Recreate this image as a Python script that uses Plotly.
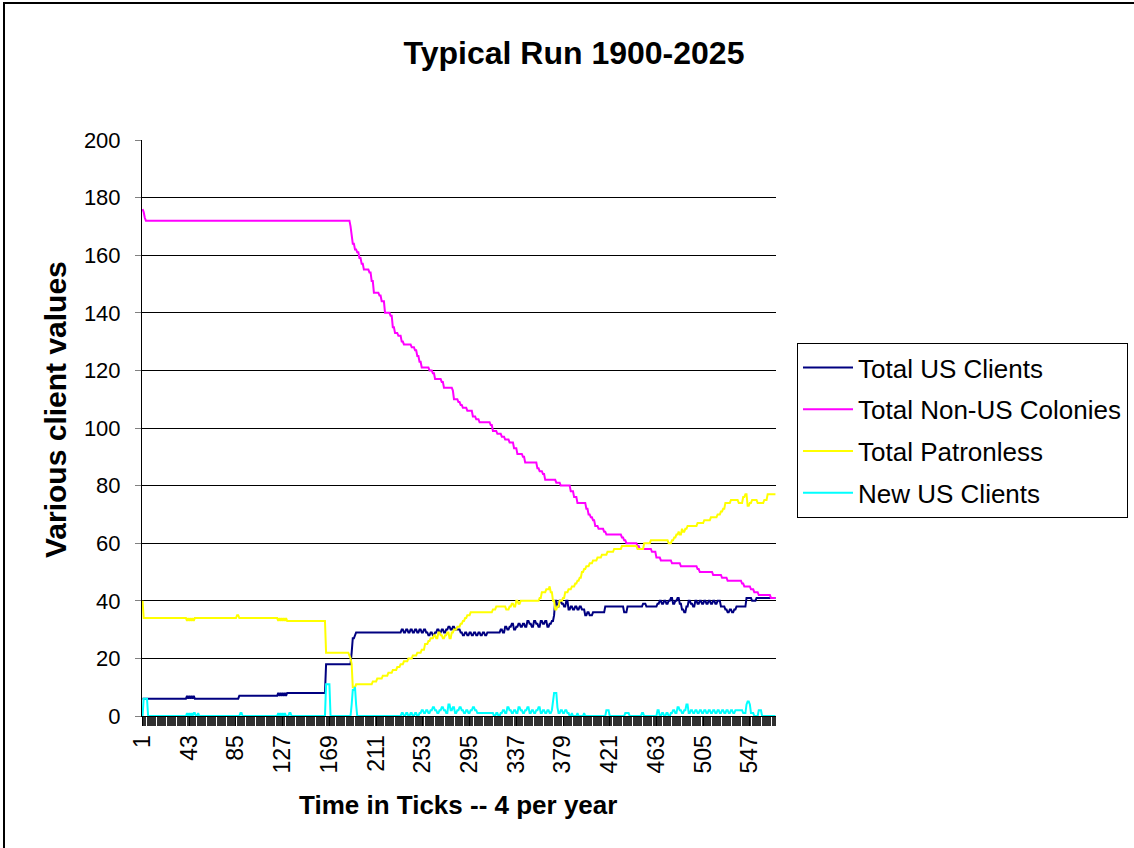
import plotly.graph_objects as go

# ---- data: (tick, value) change points; each value holds until the next change ----
N_TICKS = 570
TICK_LABELS = list(range(1, N_TICKS + 1, 42))  # 1, 43, 85, ... 547
Y_TICKS = list(range(0, 201, 20))

SERIES_NAMES = ["Total US Clients", "Total Non-US Colonies", "Total Patronless", "New US Clients"]

US_CLIENTS = [
    (1, 6), (41, 7), (42, 6), (43, 7), (44, 6), (45, 7), (46, 6), (47, 7), (48, 6),
    (88, 7),
    (123, 8), (124, 7), (125, 8), (126, 7), (127, 8), (128, 7), (129, 8), (130, 7), (131, 8),
    (166, 18),
    (189, 22), (190, 27), (192, 28), (193, 29),
    (234, 30), (236, 29), (238, 30), (240, 29), (242, 30), (244, 29), (246, 30), (248, 29),
    (250, 30), (252, 29), (254, 30), (256, 29),
    (258, 28), (260, 29), (262, 28), (264, 29), (266, 30), (268, 29), (270, 30), (272, 29),
    (274, 30), (276, 31), (278, 30), (280, 31), (282, 30),
    (287, 29), (289, 28), (291, 29), (293, 28), (295, 29), (297, 28), (299, 29), (301, 28),
    (303, 29), (305, 28), (307, 29), (309, 28), (311, 29),
    (323, 30), (325, 29), (327, 31), (329, 30), (331, 31), (333, 32), (335, 30), (337, 31),
    (339, 32), (341, 31), (343, 32), (345, 31), (347, 33), (349, 32), (351, 31), (353, 33),
    (355, 32), (357, 31), (359, 33), (361, 32), (363, 33), (365, 31), (367, 32), (369, 33),
    (371, 35), (372, 40), (374, 38), (376, 40), (378, 39), (380, 38), (382, 40), (384, 37),
    (386, 38), (388, 37), (390, 38), (392, 37), (394, 38), (396, 37),
    (399, 35), (401, 36), (403, 35), (406, 36), (417, 38), (434, 36), (437, 38), (451, 39),
    (454, 38),
    (464, 39), (466, 40), (468, 39), (470, 40), (472, 39), (474, 40), (476, 41), (478, 39),
    (480, 40), (482, 41), (484, 39), (486, 37), (488, 36), (490, 38), (492, 40), (494, 39),
    (496, 38), (498, 40), (500, 39), (502, 40), (504, 39), (506, 40), (508, 39), (510, 40),
    (512, 39), (514, 40), (516, 39), (518, 40),
    (521, 38), (525, 37), (527, 36), (529, 37), (531, 36), (533, 37), (535, 38), (544, 41),
    (549, 40), (553, 41),
]

NON_US_COLONIES = [
    (1, 176), (2, 175), (3, 173), (4, 172),
    (188, 170), (189, 167), (190, 164), (192, 162), (194, 161), (196, 159), (198, 157),
    (200, 155), (205, 154), (207, 151), (209, 147), (214, 146), (216, 144), (219, 140),
    (224, 139), (226, 135), (228, 133), (231, 132), (234, 130), (236, 129), (243, 128),
    (246, 127), (248, 125), (250, 123), (252, 121), (259, 120), (262, 119), (264, 117),
    (270, 116), (272, 114), (280, 113), (281, 110), (285, 109), (287, 108), (289, 107),
    (293, 106), (298, 104), (301, 103), (304, 102), (314, 101), (316, 99), (320, 98),
    (324, 97), (327, 96), (331, 95), (335, 93), (338, 91), (343, 90), (345, 88), (356, 86),
    (358, 85), (361, 84), (363, 82), (373, 81), (377, 80), (386, 78), (389, 76), (392, 74),
    (400, 72), (402, 70), (404, 69), (406, 68), (408, 66), (411, 65), (416, 64), (418, 63),
    (432, 62), (434, 61), (436, 60), (446, 59), (448, 58), (459, 57), (463, 55), (467, 54),
    (477, 53), (485, 52), (500, 51), (502, 50), (514, 49), (522, 48), (527, 47), (540, 46),
    (542, 45), (548, 44), (551, 43), (555, 42), (566, 41),
]

PATRONLESS = [
    (1, 40), (2, 34), (41, 33), (42, 34), (43, 33), (44, 34), (45, 33), (46, 34), (47, 33),
    (48, 34),
    (86, 35), (88, 34),
    (123, 33), (124, 34), (125, 33), (126, 34), (127, 33), (128, 34), (129, 33), (130, 34),
    (131, 33),
    (166, 22), (187, 21), (188, 20), (189, 18), (190, 10),
    (193, 11), (208, 12), (212, 13), (217, 14), (222, 15), (226, 16), (230, 17), (233, 18),
    (236, 19), (240, 20), (244, 21), (248, 22), (252, 23), (255, 25), (258, 26), (260, 27),
    (263, 28), (265, 27), (267, 29), (269, 28), (271, 27), (273, 28), (275, 29), (277, 27),
    (279, 29), (281, 30), (284, 31), (287, 32), (289, 33), (291, 34), (293, 35), (296, 36),
    (316, 37), (319, 38), (328, 37), (331, 38), (333, 39), (335, 38), (337, 40), (339, 39),
    (341, 40),
    (358, 41), (360, 43), (364, 44), (367, 45), (368, 43), (370, 40), (372, 37), (374, 38),
    (376, 40), (379, 41), (381, 43), (384, 44), (387, 45), (390, 46), (392, 47), (394, 48),
    (396, 50), (398, 51), (400, 52), (403, 53), (406, 54), (410, 55), (414, 56), (419, 57),
    (425, 58), (432, 59), (446, 58), (452, 60), (458, 61), (474, 60), (477, 61), (479, 62),
    (481, 63), (483, 64), (484, 63), (486, 65), (487, 64), (489, 65), (491, 66), (500, 67),
    (506, 68), (512, 69), (518, 70), (521, 71), (523, 72), (525, 74), (530, 75), (537, 74),
    (541, 76), (543, 77), (545, 73), (547, 74), (549, 75), (554, 74), (560, 75), (563, 77),
]

NEW_US_CLIENTS = [
    (1, 0), (2, 6), (6, 0),
    (41, 1), (42, 0), (43, 1), (44, 0), (45, 1), (46, 0), (47, 1), (49, 0), (51, 1), (52, 0),
    (89, 1), (91, 0),
    (123, 1), (124, 0), (125, 1), (126, 0), (127, 1), (128, 0), (129, 1), (130, 0), (133, 1),
    (135, 0),
    (166, 11), (170, 0),
    (189, 4), (190, 9), (192, 10), (193, 4), (194, 0),
    (234, 1), (236, 0), (238, 1), (240, 0), (242, 1), (244, 0), (246, 1), (248, 0), (250, 1),
    (252, 2), (254, 1), (256, 2), (258, 1), (260, 2), (262, 3), (264, 2), (266, 1), (268, 2),
    (270, 3), (272, 2), (274, 1), (276, 4), (278, 2), (280, 3), (282, 1), (284, 2), (286, 3),
    (288, 2), (290, 1), (292, 2), (294, 1), (296, 2), (298, 3), (300, 2), (302, 1),
    (317, 0), (319, 1), (321, 0), (323, 1), (325, 2), (327, 1), (329, 3), (331, 2), (333, 1),
    (335, 2), (337, 1), (339, 3), (341, 2), (343, 1), (345, 2), (347, 3), (349, 1), (351, 2),
    (353, 1), (355, 2), (357, 3), (359, 1), (361, 2), (363, 1), (365, 2), (367, 1), (369, 2),
    (370, 5), (371, 8), (374, 3), (375, 1), (377, 2), (379, 1), (381, 2), (383, 1), (385, 0),
    (387, 1), (388, 0), (392, 1), (393, 0), (398, 1), (399, 0),
    (418, 2), (421, 0), (435, 1), (439, 0), (450, 1), (452, 0), (464, 2), (466, 0), (468, 1),
    (470, 0), (472, 1), (474, 0), (476, 1), (478, 2), (480, 1), (482, 3), (484, 2), (486, 1),
    (488, 2), (490, 4), (492, 1), (494, 2), (496, 1), (498, 2), (500, 1), (502, 2), (504, 1),
    (506, 2), (508, 1), (510, 2), (512, 1), (514, 2), (516, 1), (518, 2), (520, 1), (522, 2),
    (524, 1), (526, 2), (528, 1), (530, 2), (532, 1), (534, 2), (541, 1), (544, 4), (545, 5),
    (547, 4), (548, 1), (551, 0), (555, 2), (558, 0),
]

COLORS = ["#000080", "#FF00FF", "#FFFF00", "#00FFFF"]


def hold(steps, n):
    """Expand (tick, value) change points into one value per tick."""
    values, idx, current = [], 0, steps[0][1]
    for t in range(1, n + 1):
        while idx < len(steps) and steps[idx][0] <= t:
            current = steps[idx][1]
            idx += 1
        values.append(current)
    return values


ticks = list(range(1, N_TICKS + 1))
FONT = "Liberation Sans, Arial, sans-serif"

# plot area in pixels: x 142..776, y 140..716
W, H = 1134, 848
L, R, T, B = 142, 1134 - 776, 140, 848 - 716
PW, PH = W - L - R, H - T - B


def px_x(x):
    return (x - L) / PW


def px_y(y):
    return (H - B - y) / PH


fig = go.Figure()
for name, steps, color in zip(SERIES_NAMES, [US_CLIENTS, NON_US_COLONIES, PATRONLESS, NEW_US_CLIENTS], COLORS):
    fig.add_trace(go.Scatter(
        x=ticks, y=hold(steps, N_TICKS), name=name, mode="lines",
        line=dict(color=color, width=2), legendgroup=name,
    ))

fig.update_layout(
    width=W, height=H,
    margin=dict(l=L, r=R, t=T, b=B, pad=0, autoexpand=False),
    paper_bgcolor="white", plot_bgcolor="white",
    font=dict(family=FONT, color="black"),
    title=dict(
        text="<b>Typical Run 1900-2025</b>", font=dict(size=32, family=FONT, color="black"),
        xref="container", x=574 / W, xanchor="center",
        yref="container", y=1 - 53 / H, yanchor="middle",
    ),
    showlegend=True,
    legend=dict(
        x=px_x(797), y=px_y(343), xanchor="left", yanchor="top",
        bgcolor="white", bordercolor="black", borderwidth=1,
        font=dict(size=26, family=FONT, color="black"),
        tracegroupgap=5, itemclick=False, itemwidth=50,
    ),
    xaxis=dict(
        range=[0.5, N_TICKS + 0.5], showgrid=False, zeroline=False,
        showline=True, linecolor="black", linewidth=1,
        tickmode="array", tickvals=TICK_LABELS, ticktext=[str(v) for v in TICK_LABELS],
        tickangle=-90, ticks="outside", ticklen=9, tickcolor="black", tickwidth=1,
        tickfont=dict(size=23, family=FONT, color="black"),
        minor=dict(tickmode="linear", tick0=1, dtick=1, ticks="outside", ticklen=9,
                   tickcolor="#303030", tickwidth=1, showgrid=False),
    ),
    yaxis=dict(
        range=[0, 200], tickmode="array", tickvals=Y_TICKS,
        showgrid=True, gridcolor="black", gridwidth=1, zeroline=False,
        showline=True, linecolor="black", linewidth=1,
        ticks="outside", ticklen=6, tickcolor="#808080", tickwidth=1,
        tickfont=dict(size=22, family=FONT, color="black"),
        ticklabelstandoff=10,
    ),
    annotations=[
        dict(text="<b>Various client values</b>", textangle=-90, showarrow=False,
             xref="paper", yref="paper", x=px_x(55), y=px_y(410),
             xanchor="center", yanchor="middle", font=dict(size=30, family=FONT, color="black")),
        dict(text="<b>Time in Ticks -- 4 per year</b>", showarrow=False,
             xref="paper", yref="paper", x=px_x(458), y=px_y(805),
             xanchor="center", yanchor="middle", font=dict(size=26, family=FONT, color="black")),
    ],
    shapes=[
        dict(type="rect", xref="paper", yref="paper", layer="above",
             x0=px_x(4), x1=px_x(1150), y0=px_y(870), y1=px_y(3),
             line=dict(color="black", width=2), fillcolor="rgba(0,0,0,0)"),
    ],
)

fig.write_html("out.html")
